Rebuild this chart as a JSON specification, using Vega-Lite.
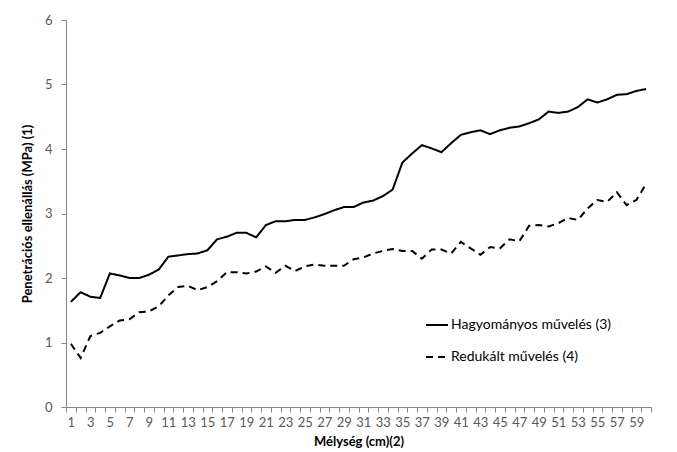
{
  "$schema": "https://vega.github.io/schema/vega-lite/v6.json",
  "width": 585,
  "height": 387,
  "autosize": "none",
  "padding": {"left": 66, "top": 20, "right": 26, "bottom": 45},
  "background": "white",
  "config": {"view": {"stroke": null}, "font": "Lato"},
  "data": {"values": [
    {"d":1,"s":"Hagyományos művelés (3)","v":1.63},{"d":2,"s":"Hagyományos művelés (3)","v":1.78},{"d":3,"s":"Hagyományos művelés (3)","v":1.71},{"d":4,"s":"Hagyományos művelés (3)","v":1.69},{"d":5,"s":"Hagyományos művelés (3)","v":2.07},{"d":6,"s":"Hagyományos művelés (3)","v":2.04},{"d":7,"s":"Hagyományos művelés (3)","v":2.0},{"d":8,"s":"Hagyományos művelés (3)","v":2.0},{"d":9,"s":"Hagyományos művelés (3)","v":2.05},{"d":10,"s":"Hagyományos művelés (3)","v":2.13},
    {"d":11,"s":"Hagyományos művelés (3)","v":2.33},{"d":12,"s":"Hagyományos művelés (3)","v":2.35},{"d":13,"s":"Hagyományos művelés (3)","v":2.37},{"d":14,"s":"Hagyományos művelés (3)","v":2.38},{"d":15,"s":"Hagyományos művelés (3)","v":2.43},{"d":16,"s":"Hagyományos művelés (3)","v":2.6},{"d":17,"s":"Hagyományos művelés (3)","v":2.64},{"d":18,"s":"Hagyományos művelés (3)","v":2.7},{"d":19,"s":"Hagyományos művelés (3)","v":2.7},{"d":20,"s":"Hagyományos művelés (3)","v":2.63},
    {"d":21,"s":"Hagyományos művelés (3)","v":2.82},{"d":22,"s":"Hagyományos művelés (3)","v":2.88},{"d":23,"s":"Hagyományos művelés (3)","v":2.88},{"d":24,"s":"Hagyományos művelés (3)","v":2.9},{"d":25,"s":"Hagyományos művelés (3)","v":2.9},{"d":26,"s":"Hagyományos művelés (3)","v":2.94},{"d":27,"s":"Hagyományos művelés (3)","v":2.99},{"d":28,"s":"Hagyományos művelés (3)","v":3.05},{"d":29,"s":"Hagyományos művelés (3)","v":3.1},{"d":30,"s":"Hagyományos művelés (3)","v":3.1},
    {"d":31,"s":"Hagyományos művelés (3)","v":3.17},{"d":32,"s":"Hagyományos művelés (3)","v":3.2},{"d":33,"s":"Hagyományos művelés (3)","v":3.27},{"d":34,"s":"Hagyományos művelés (3)","v":3.37},{"d":35,"s":"Hagyományos művelés (3)","v":3.79},{"d":36,"s":"Hagyományos művelés (3)","v":3.93},{"d":37,"s":"Hagyományos művelés (3)","v":4.06},{"d":38,"s":"Hagyományos művelés (3)","v":4.01},{"d":39,"s":"Hagyományos művelés (3)","v":3.95},{"d":40,"s":"Hagyományos művelés (3)","v":4.09},
    {"d":41,"s":"Hagyományos művelés (3)","v":4.22},{"d":42,"s":"Hagyományos művelés (3)","v":4.26},{"d":43,"s":"Hagyományos művelés (3)","v":4.29},{"d":44,"s":"Hagyományos művelés (3)","v":4.23},{"d":45,"s":"Hagyományos művelés (3)","v":4.29},{"d":46,"s":"Hagyományos művelés (3)","v":4.33},{"d":47,"s":"Hagyományos művelés (3)","v":4.35},{"d":48,"s":"Hagyományos művelés (3)","v":4.4},{"d":49,"s":"Hagyományos művelés (3)","v":4.46},{"d":50,"s":"Hagyományos művelés (3)","v":4.58},
    {"d":51,"s":"Hagyományos művelés (3)","v":4.56},{"d":52,"s":"Hagyományos művelés (3)","v":4.58},{"d":53,"s":"Hagyományos művelés (3)","v":4.65},{"d":54,"s":"Hagyományos művelés (3)","v":4.77},{"d":55,"s":"Hagyományos művelés (3)","v":4.72},{"d":56,"s":"Hagyományos művelés (3)","v":4.77},{"d":57,"s":"Hagyományos művelés (3)","v":4.84},{"d":58,"s":"Hagyományos művelés (3)","v":4.85},{"d":59,"s":"Hagyományos művelés (3)","v":4.9},{"d":60,"s":"Hagyományos művelés (3)","v":4.93},
    {"d":1,"s":"Redukált művelés (4)","v":0.98},{"d":2,"s":"Redukált művelés (4)","v":0.76},{"d":3,"s":"Redukált művelés (4)","v":1.1},{"d":4,"s":"Redukált művelés (4)","v":1.15},{"d":5,"s":"Redukált művelés (4)","v":1.25},{"d":6,"s":"Redukált művelés (4)","v":1.34},{"d":7,"s":"Redukált művelés (4)","v":1.36},{"d":8,"s":"Redukált művelés (4)","v":1.47},{"d":9,"s":"Redukált művelés (4)","v":1.48},{"d":10,"s":"Redukált művelés (4)","v":1.56},
    {"d":11,"s":"Redukált művelés (4)","v":1.73},{"d":12,"s":"Redukált művelés (4)","v":1.86},{"d":13,"s":"Redukált művelés (4)","v":1.88},{"d":14,"s":"Redukált művelés (4)","v":1.81},{"d":15,"s":"Redukált művelés (4)","v":1.86},{"d":16,"s":"Redukált művelés (4)","v":1.95},{"d":17,"s":"Redukált művelés (4)","v":2.09},{"d":18,"s":"Redukált művelés (4)","v":2.09},{"d":19,"s":"Redukált művelés (4)","v":2.07},{"d":20,"s":"Redukált művelés (4)","v":2.1},
    {"d":21,"s":"Redukált művelés (4)","v":2.18},{"d":22,"s":"Redukált művelés (4)","v":2.08},{"d":23,"s":"Redukált művelés (4)","v":2.19},{"d":24,"s":"Redukált művelés (4)","v":2.11},{"d":25,"s":"Redukált művelés (4)","v":2.18},{"d":26,"s":"Redukált művelés (4)","v":2.21},{"d":27,"s":"Redukált művelés (4)","v":2.19},{"d":28,"s":"Redukált művelés (4)","v":2.19},{"d":29,"s":"Redukált művelés (4)","v":2.19},{"d":30,"s":"Redukált művelés (4)","v":2.29},
    {"d":31,"s":"Redukált művelés (4)","v":2.32},{"d":32,"s":"Redukált művelés (4)","v":2.38},{"d":33,"s":"Redukált művelés (4)","v":2.42},{"d":34,"s":"Redukált művelés (4)","v":2.45},{"d":35,"s":"Redukált művelés (4)","v":2.42},{"d":36,"s":"Redukált művelés (4)","v":2.42},{"d":37,"s":"Redukált művelés (4)","v":2.3},{"d":38,"s":"Redukált művelés (4)","v":2.44},{"d":39,"s":"Redukált művelés (4)","v":2.44},{"d":40,"s":"Redukált művelés (4)","v":2.38},
    {"d":41,"s":"Redukált művelés (4)","v":2.56},{"d":42,"s":"Redukált művelés (4)","v":2.46},{"d":43,"s":"Redukált művelés (4)","v":2.36},{"d":44,"s":"Redukált művelés (4)","v":2.48},{"d":45,"s":"Redukált művelés (4)","v":2.46},{"d":46,"s":"Redukált művelés (4)","v":2.6},{"d":47,"s":"Redukált művelés (4)","v":2.57},{"d":48,"s":"Redukált művelés (4)","v":2.81},{"d":49,"s":"Redukált művelés (4)","v":2.82},{"d":50,"s":"Redukált művelés (4)","v":2.8},
    {"d":51,"s":"Redukált művelés (4)","v":2.85},{"d":52,"s":"Redukált művelés (4)","v":2.93},{"d":53,"s":"Redukált művelés (4)","v":2.9},{"d":54,"s":"Redukált művelés (4)","v":3.08},{"d":55,"s":"Redukált művelés (4)","v":3.21},{"d":56,"s":"Redukált művelés (4)","v":3.18},{"d":57,"s":"Redukált művelés (4)","v":3.33},{"d":58,"s":"Redukált művelés (4)","v":3.13},{"d":59,"s":"Redukált művelés (4)","v":3.21},{"d":60,"s":"Redukált művelés (4)","v":3.46}
  ]},
  "mark": {"type": "line", "color": "black", "strokeWidth": 2},
  "encoding": {
    "x": {
      "field": "d", "type": "ordinal",
      "scale": {"type": "band", "paddingInner": 0, "paddingOuter": 0},
      "bandPosition": 0.5,
      "axis": {
        "title": "Mélység (cm)(2)",
        "labelAngle": 0,
        "tickBand": "extent",
        "labelExpr": "datum.value % 2 == 1 ? datum.label : ''",
        "labelOverlap": false,
        "labelBound": false,
        "domainColor": "#868686",
        "tickColor": "#868686",
        "tickSize": 5,
        "labelColor": "#595959",
        "labelFontSize": 13,
        "labelPadding": 4,
        "titleFontSize": 13,
        "titleFontWeight": "bold",
        "titleColor": "black",
        "titlePadding": 6
      }
    },
    "y": {
      "field": "v", "type": "quantitative",
      "scale": {"domain": [0, 6], "nice": false},
      "axis": {
        "title": "Penetrációs ellenállás (MPa) (1)",
        "values": [0, 1, 2, 3, 4, 5, 6],
        "grid": false,
        "domainColor": "#868686",
        "tickColor": "#868686",
        "tickSize": 5,
        "labelColor": "#595959",
        "labelFontSize": 13,
        "labelPadding": 9,
        "titleFontSize": 13,
        "titleFontWeight": "bold",
        "titleColor": "black",
        "titlePadding": 10
      }
    },
    "strokeDash": {
      "field": "s", "type": "nominal",
      "scale": {"domain": ["Hagyományos művelés (3)", "Redukált művelés (4)"], "range": [[1, 0], [7, 5]]},
      "legend": {
        "title": null,
        "orient": "none",
        "legendX": 359,
        "legendY": 293,
        "symbolType": "stroke",
        "symbolStrokeColor": "black",
        "symbolStrokeWidth": 2,
        "symbolSize": 480,
        "labelFontSize": 14,
        "labelColor": "black",
        "labelLimit": 400,
        "labelOffset": 2,
        "rowPadding": 13
      }
    }
  }
}
